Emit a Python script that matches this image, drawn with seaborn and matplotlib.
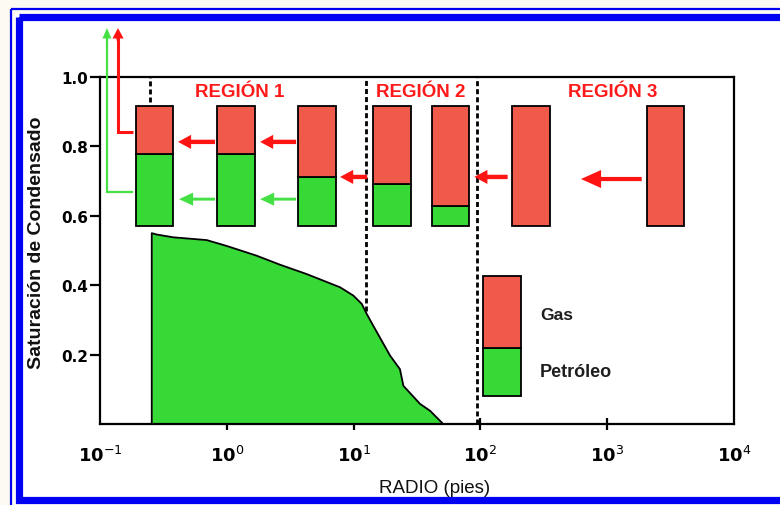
import matplotlib
matplotlib.use("Agg")
import matplotlib.pyplot as plt
from matplotlib.patches import Rectangle
from matplotlib.transforms import Affine2D
import seaborn as sns

# Condensate (oil) saturation profile versus radius (ft)
radio_curva = [0.256, 0.280, 0.378, 0.694, 1.0, 1.72, 2.63, 4.27, 7.82, 9.96,
               11.6, 12.7, 14.3, 19.4, 23.2, 24.7, 33.4, 40.1, 50.9]
so_curva = [0.550, 0.546, 0.538, 0.530, 0.513, 0.485, 0.459, 0.432, 0.394, 0.370,
            0.346, 0.317, 0.283, 0.197, 0.158, 0.110, 0.058, 0.038, 0.0]

# Schematic saturation columns (oil at the bottom, gas on top)
radio_barras = [0.269, 1.18, 5.14, 20.1, 58.1, 251, 2884]
base_barras = 0.572
tope_barras = 0.917
tope_petroleo = [0.778, 0.778, 0.711, 0.692, 0.629, 0.572, 0.572]

# Region boundaries (dashed lines) and region titles
limites_region = [0.248, 12.5, 94.1]
limite_inf = [0.928, 0.325, 0.0]
regiones = ["REGIÓN 1", "REGIÓN 2", "REGIÓN 3"]
radio_regiones = [1.27, 34.0, 1112]

# Flow arrows: (radius of tail, radius of tip, saturation level)
flechas_gas = [(0.807, 0.412, 0.813), (3.52, 1.83, 0.813), (12.8, 7.82, 0.712),
               (164, 89.5, 0.712), (1871, 621, 0.706)]
flechas_petroleo = [(0.807, 0.420, 0.648), (3.52, 1.83, 0.648)]

# Legend column
leyenda_x = [104.8, 209]
leyenda_y = [0.0807, 0.219, 0.4265]
leyenda_txt = ["Gas", "Petróleo"]

x_ticks = [0.1, 1, 10, 100, 1000, 10000]
x_ticklabels = [r"$\mathbf{10}^{-1}$", r"$\mathbf{10}^{0}$", r"$\mathbf{10}^{1}$",
                r"$\mathbf{10}^{2}$", r"$\mathbf{10}^{3}$", r"$\mathbf{10}^{4}$"]
y_ticks = [0.2, 0.4, 0.6, 0.8, 1.0]

ROJO = "#F05A4B"
VERDE = "#36D936"
ROJO_FL = "#FF1414"
VERDE_FL = "#44E044"
AZUL = "#0000F2"

sns.set_style("ticks")
plt.rcParams["font.family"] = ["Liberation Sans", "DejaVu Sans"]
plt.rcParams["mathtext.fontset"] = "dejavusans"

W, H = 780, 506
fig = plt.figure(figsize=(W / 100, H / 100), dpi=100)
fig.patch.set_facecolor("#FCFAF3")

# pixel coordinates measured from the top-left corner of the figure
px = Affine2D().scale(1 / W, -1 / H).translate(0, 1) + fig.transFigure
fig.patches.append(Rectangle((15, 14), 800, 520, transform=px, facecolor="white",
                             edgecolor="none", zorder=-10))
fig.patches.append(Rectangle((11, 10), 800, 520, transform=px, facecolor="none",
                             edgecolor=AZUL, lw=1.6, zorder=-9))
fig.patches.append(Rectangle((18.5, 18), 800, 483.5, transform=px, facecolor="none",
                             edgecolor=AZUL, lw=5.2, zorder=-8))

ax = fig.add_axes([100 / W, 1 - 425 / H, 634 / W, 347 / H])
ax.set_facecolor("none")
ax.set_xscale("log")
ax.set_xlim(0.1, 10000)
ax.set_ylim(0, 1.0)

# Oil saturation profile
ax.fill_between(radio_curva, so_curva, 0, color=VERDE, lw=0, zorder=1)
sns.lineplot(x=[radio_curva[0]] + radio_curva, y=[0.0] + so_curva, sort=False,
             estimator=None, color="black", lw=1.3, ax=ax, zorder=2)

# Saturation columns
ancho = 0.296  # decades
for r, sp in zip(radio_barras, tope_petroleo):
    izq = r * 10 ** (-ancho / 2)
    der = r * 10 ** (ancho / 2)
    if sp > base_barras:
        ax.bar(izq, sp - base_barras, width=der - izq, bottom=base_barras, align="edge",
               color=VERDE, edgecolor="black", lw=1.3, zorder=3)
    ax.bar(izq, tope_barras - sp, width=der - izq, bottom=sp, align="edge",
           color=ROJO, edgecolor="black", lw=1.3, zorder=3)

# Region boundaries
for xr, y0 in zip(limites_region, limite_inf):
    ax.plot([xr, xr], [y0, 1.0], color="black", lw=2.0, ls=(0, (1.8, 1.1)), zorder=2)

for txt, xr in zip(regiones, radio_regiones):
    ax.text(xr, 0.957, txt, color="#FF1A1A", fontsize=13.5, fontweight="bold",
            ha="center", va="center")

# Horizontal flow arrows
for i, (x0, x1, y) in enumerate(flechas_gas):
    grande = i == len(flechas_gas) - 1
    estilo = ("simple,head_length=1.45,head_width=1.3,tail_width=0.3" if grande
              else "simple,head_length=1.35,head_width=1.45,tail_width=0.45")
    ax.annotate("", xy=(x1, y), xytext=(x0, y),
                arrowprops=dict(arrowstyle=estilo, mutation_scale=10 if grande else 7,
                                color=ROJO_FL, lw=0, shrinkA=0, shrinkB=0))
for x0, x1, y in flechas_petroleo:
    ax.annotate("", xy=(x1, y), xytext=(x0, y),
                arrowprops=dict(arrowstyle="simple,head_length=1.45,head_width=1.35,tail_width=0.3",
                                mutation_scale=7, color=VERDE_FL, lw=0, shrinkA=0, shrinkB=0))

# Output arrows leaving the first column upward
for xs, xc, y, col, lw, hw in [(0.182, 0.1387, 0.8415, ROJO_FL, 2.2, 0.8),
                               (0.182, 0.1135, 0.6686, VERDE_FL, 1.6, 0.65)]:
    ax.plot([xs, xc, xc], [y, y, 1.115], color=col, lw=lw, clip_on=False,
            solid_joinstyle="miter", solid_capstyle="butt", zorder=4)
    ax.annotate("", xy=(xc, 1.141), xytext=(xc, 1.105), annotation_clip=False,
                arrowprops=dict(arrowstyle=f"simple,head_length=0.75,head_width={hw},"
                                           f"tail_width={lw / 10}",
                                mutation_scale=10, color=col, lw=0, shrinkA=0, shrinkB=0))

# Legend column
ax.bar(leyenda_x[0], leyenda_y[1] - leyenda_y[0], width=leyenda_x[1] - leyenda_x[0],
       bottom=leyenda_y[0], align="edge", color=VERDE, edgecolor="black", lw=1.3, zorder=3)
ax.bar(leyenda_x[0], leyenda_y[2] - leyenda_y[1], width=leyenda_x[1] - leyenda_x[0],
       bottom=leyenda_y[1], align="edge", color=ROJO, edgecolor="black", lw=1.3, zorder=3)
ax.text(295, 0.317, leyenda_txt[0], fontsize=12.5, fontweight="bold", color="#1E1E1E",
        ha="left", va="center")
ax.text(295, 0.150, leyenda_txt[1], fontsize=13, fontweight="bold", color="#1E1E1E",
        ha="left", va="center")

# Axes styling
for s in ax.spines.values():
    s.set_linewidth(1.6)
    s.set_color("black")
    s.set_visible(True)

ax.set_xticks(x_ticks)
ax.set_xticklabels(x_ticklabels, fontsize=13)
ax.xaxis.set_minor_locator(matplotlib.ticker.NullLocator())
ax.tick_params(axis="x", direction="inout", length=8.6, width=1.6, pad=11, colors="black")
for t in (ax.xaxis.get_major_ticks()[0], ax.xaxis.get_major_ticks()[-1]):
    t.tick1line.set_visible(False)

ax.set_yticks(y_ticks)
ax.set_yticklabels([f"{v:.1f}" for v in y_ticks], fontsize=11,
                   fontweight="bold", family="DejaVu Sans")
ax.tick_params(axis="y", direction="out", length=7.2, width=1.6, pad=1.5, colors="black")

ax.set_xlabel("RADIO (pies)", fontsize=13.5, color="#111111")
ax.xaxis.set_label_coords((435 - 100) / 634, -0.158)
ax.set_ylabel("Saturación de Condensado", fontsize=14, fontweight="bold", color="#111111",
              va="center")
ax.yaxis.set_label_coords((37 - 100) / 634, (425 - 243) / 347)

fig.savefig("out.png", dpi=100, facecolor=fig.get_facecolor())
